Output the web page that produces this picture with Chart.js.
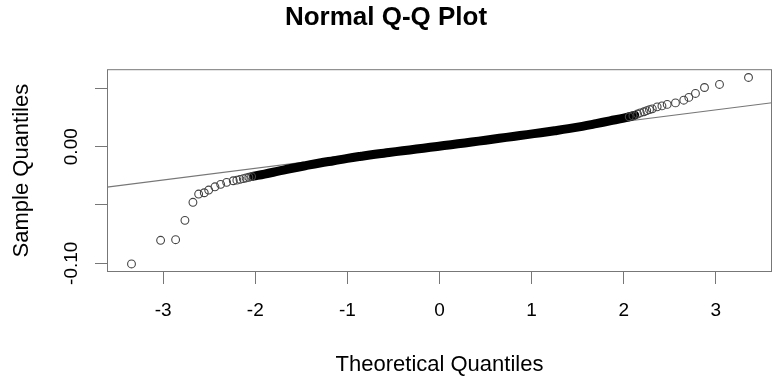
<!DOCTYPE html>
<html>
<head>
<meta charset="utf-8">
<script src="https://cdn.jsdelivr.net/npm/chart.js@4"></script>
<style>
  html, body { margin: 0; padding: 0; background: #fff; }
  #wrap { width: 780px; height: 383px; }
</style>
</head>
<body>
<div id="wrap"><canvas id="qq"></canvas></div>
<script>
// axis ticks
var xTicks = [-3, -2, -1, 0, 1, 2, 3];
var yTicks = [-0.10, -0.05, 0, 0.05];
var yTickLabels = ['-0.10', '', '0.00', ''];

// dense middle of the sample (theoretical vs sample quantiles)
var bandX = [-2.02, -1.9, -1.75, -1.6, -1.45, -1.3, -1.15, -1.0, -0.85, -0.7, -0.55, -0.4, -0.25, -0.1,
             0.05, 0.2, 0.35, 0.5, 0.65, 0.8, 0.95, 1.1, 1.25, 1.4, 1.55, 1.7, 1.85, 2.0, 2.12];
var bandY = [-0.0253, -0.0235, -0.0210, -0.0185, -0.0162, -0.0140, -0.0120, -0.0100, -0.0082, -0.0065, -0.0050, -0.0035, -0.0020, -0.0005,
             0.0010, 0.0025, 0.0040, 0.0056, 0.0072, 0.0088, 0.0104, 0.0120, 0.0137, 0.0155, 0.0175, 0.0198, 0.0222, 0.0245, 0.0270];

// separate points in the tails
var tailX = [-3.344, -3.028, -2.865, -2.764, -2.677, -2.615, -2.554, -2.506, -2.438, -2.376, -2.311, -2.239, -2.200, -2.166, -2.130, -2.10, -2.07, -2.04,
             2.06, 2.10, 2.15, 2.18, 2.22, 2.25, 2.28, 2.31, 2.363, 2.415, 2.472, 2.562, 2.652, 2.707, 2.779, 2.877, 3.040, 3.355];
var tailY = [-0.1006, -0.0803, -0.0798, -0.0632, -0.0477, -0.0406, -0.0395, -0.0372, -0.0344, -0.0323, -0.0306, -0.0292, -0.0287, -0.0280, -0.0274, -0.0268, -0.0262, -0.0256,
             0.0257, 0.0265, 0.0280, 0.0290, 0.0300, 0.0310, 0.0318, 0.0325, 0.0342, 0.0350, 0.0363, 0.0376, 0.0399, 0.0423, 0.0457, 0.0508, 0.0534, 0.0594];

// qqline end points
var lineX = [-3.61, 3.61];
var lineY = [-0.0347, 0.0377];

function pts(xs, ys) {
  return xs.map(function (x, i) { return {x: x, y: ys[i]}; });
}

var boxPlugin = {
  id: 'box',
  afterDraw: function (chart) {
    var a = chart.chartArea, c = chart.ctx;
    c.save();
    c.strokeStyle = '#777';
    c.lineWidth = 1;
    c.strokeRect(a.left + 0.5, a.top + 0.5, a.right - a.left - 1, a.bottom - a.top - 1);
    c.restore();
  }
};

var ctx = document.getElementById('qq').getContext('2d');
var qq = new Chart(ctx, {
  type: 'scatter',
  data: {
    datasets: [{
      label: 'qqline',
      data: pts(lineX, lineY),
      showLine: true,
      borderColor: '#777',
      borderWidth: 1.2,
      pointRadius: 0,
      order: 3
    }, {
      label: 'band',
      data: pts(bandX, bandY),
      showLine: true,
      tension: 0.4,
      borderColor: '#000',
      borderWidth: 9,
      borderCapStyle: 'round',
      pointRadius: 0,
      order: 2
    }, {
      label: 'sample',
      data: pts(tailX, tailY),
      pointStyle: 'circle',
      pointRadius: 3.9,
      borderWidth: 1.1,
      borderColor: '#444',
      backgroundColor: 'rgba(0,0,0,0)',
      order: 1
    }]
  },
  options: {
    responsive: true,
    maintainAspectRatio: false,
    animation: false,
    layout: { padding: { right: 8 } },
    plugins: {
      legend: { display: false },
      tooltip: { enabled: false },
      title: {
        display: true,
        text: 'Normal Q-Q Plot',
        color: '#000',
        font: { family: 'Liberation Sans', size: 26, weight: 'bold' },
        padding: { top: 2, bottom: 36 }
      }
    },
    scales: {
      x: {
        type: 'linear',
        min: -3.61,
        max: 3.61,
        afterBuildTicks: function (s) { s.ticks = xTicks.map(function (v) { return {value: v}; }); },
        afterFit: function (s) { s.height = 111; },
        border: { display: false },
        grid: { drawOnChartArea: false, drawTicks: true, tickLength: 12, color: '#777' },
        ticks: {
          color: '#000',
          padding: 15,
          font: { family: 'Liberation Sans', size: 19 },
          callback: function (v) { return String(v); }
        },
        title: {
          display: true,
          text: 'Theoretical Quantiles',
          color: '#000',
          font: { family: 'Liberation Sans', size: 22 },
          padding: { bottom: 5 }
        }
      },
      y: {
        type: 'linear',
        min: -0.1075,
        max: 0.0665,
        afterBuildTicks: function (s) { s.ticks = yTicks.map(function (v) { return {value: v}; }); },
        afterFit: function (s) { s.width = 107; },
        border: { display: false },
        grid: { drawOnChartArea: false, drawTicks: true, tickLength: 12, color: '#777' },
        ticks: {
          color: '#000',
          minRotation: 90,
          maxRotation: 90,
          crossAlign: 'center',
          padding: 2,
          font: { family: 'Liberation Sans', size: 19 },
          callback: function (v, i) { return yTickLabels[i]; }
        },
        title: {
          display: true,
          text: 'Sample Quantiles',
          color: '#000',
          font: { family: 'Liberation Sans', size: 22 },
          padding: { top: 9 }
        }
      }
    }
  },
  plugins: [boxPlugin]
});
</script>
</body>
</html>
